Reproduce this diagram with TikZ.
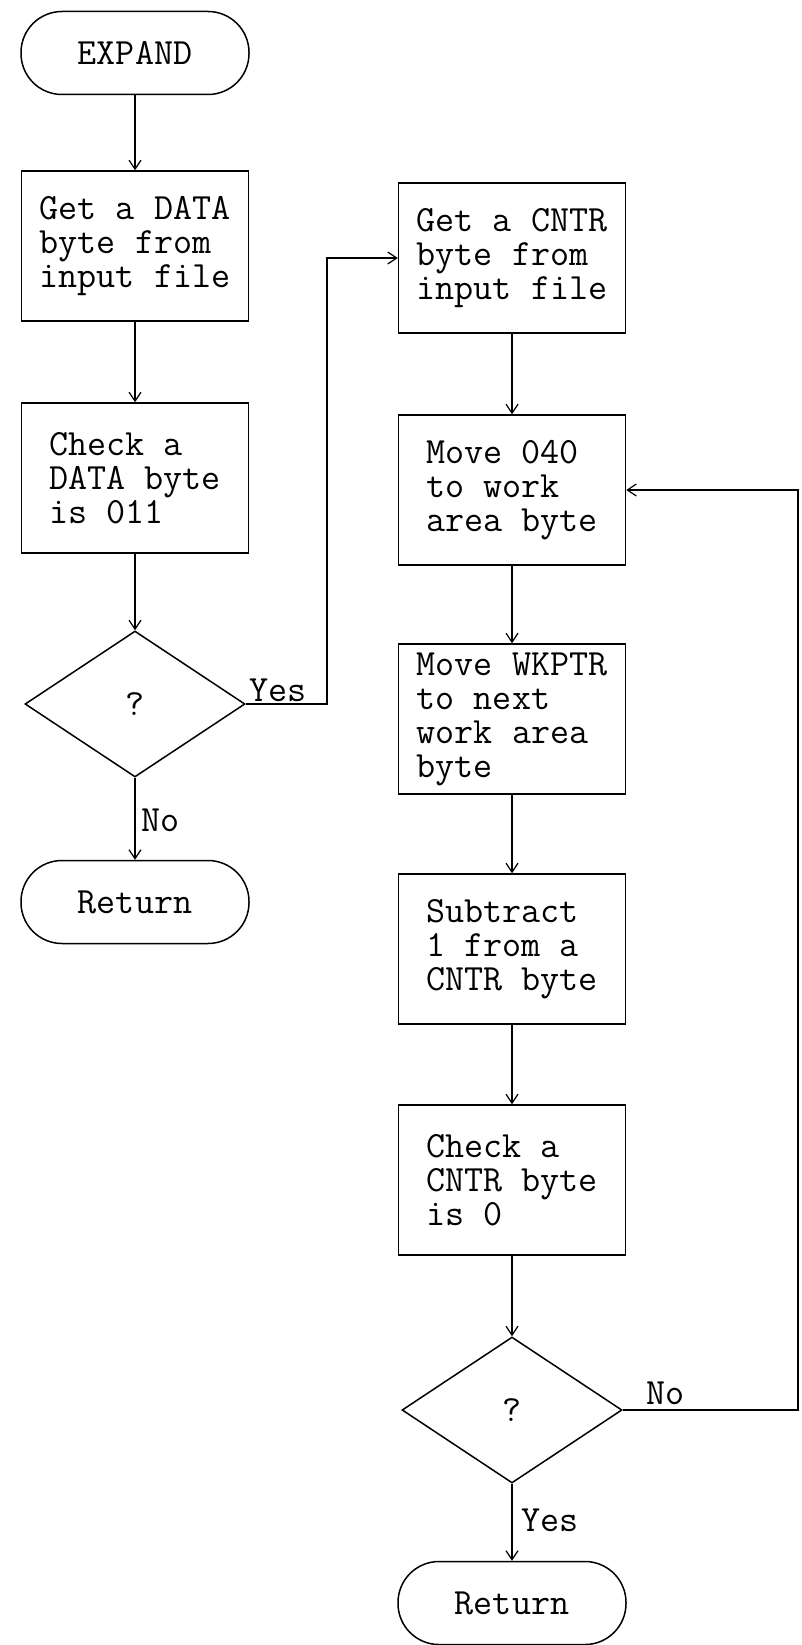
\documentclass[tikz,border=0pt]{standalone}
\usetikzlibrary{shapes.geometric,arrows.meta}

\begin{document}
\begin{tikzpicture}[
x=1pt, y=-1pt,
font=\ttfamily\fontsize{37}{34}\selectfont,
line width=1.5pt,
term/.style={draw, rectangle, rounded corners=41pt, minimum width=228pt, minimum height=83pt},
proc/.style={draw, rectangle, align=left, minimum width=227pt, minimum height=150pt},
test/.style={draw, diamond, minimum width=220pt, minimum height=146pt, inner sep=0pt},
lbl/.style={inner sep=1pt},
arr/.style={-{Straight Barb[length=9pt,width=12pt]}, line width=1.2pt}
]
\useasboundingbox (0,0) rectangle (802,1645);

% left column
\node[term] (expand) at (135,53) {EXPAND};
\node[proc] (getdata) at (135,246) {Get a DATA\\byte from\\input file};
\node[proc] (chkdata) at (135,478) {Check a\\DATA byte\\is 011};
\node[test] (dec1) at (135,704) {?};
\node[term] (ret1) at (135,902) {Return};

% right column
\node[proc] (getcntr) at (512,258) {Get a CNTR\\byte from\\input file};
\node[proc] (mov040) at (512,490) {Move 040\\to work\\area byte};
\node[proc] (movwk) at (512,719) {Move WKPTR\\to next\\work area\\byte};
\node[proc] (subcntr) at (512,949) {Subtract\\1 from a\\CNTR byte};
\node[proc] (chkcntr) at (512,1180) {Check a\\CNTR byte\\is 0};
\node[test] (dec2) at (512,1410) {?};
\node[term] (ret2) at (512,1603) {Return};

% bends
\coordinate (yesx) at (327,704);
\coordinate (nox) at (798,1410);

% edges
\draw[arr] (expand) -- (getdata);
\draw[arr] (getdata) -- (chkdata);
\draw[arr] (chkdata) -- (dec1);
\draw[arr] (dec1) -- (ret1);
\draw[arr] (dec1.east) -- (yesx) |- (getcntr.west);

\draw[arr] (getcntr) -- (mov040);
\draw[arr] (mov040) -- (movwk);
\draw[arr] (movwk) -- (subcntr);
\draw[arr] (subcntr) -- (chkcntr);
\draw[arr] (chkcntr) -- (dec2);
\draw[arr] (dec2) -- (ret2);
\draw[arr] (dec2.east) -- (nox) |- (mov040.east);

% branch labels
\node[lbl, anchor=west] (yes1) at (248,690) {Yes};
\node[lbl, anchor=west] (no1) at (140,820) {No};
\node[lbl, anchor=west] (no2) at (645,1393) {No};
\node[lbl, anchor=west] (yes2) at (520,1520) {Yes};

\end{tikzpicture}
\end{document}
